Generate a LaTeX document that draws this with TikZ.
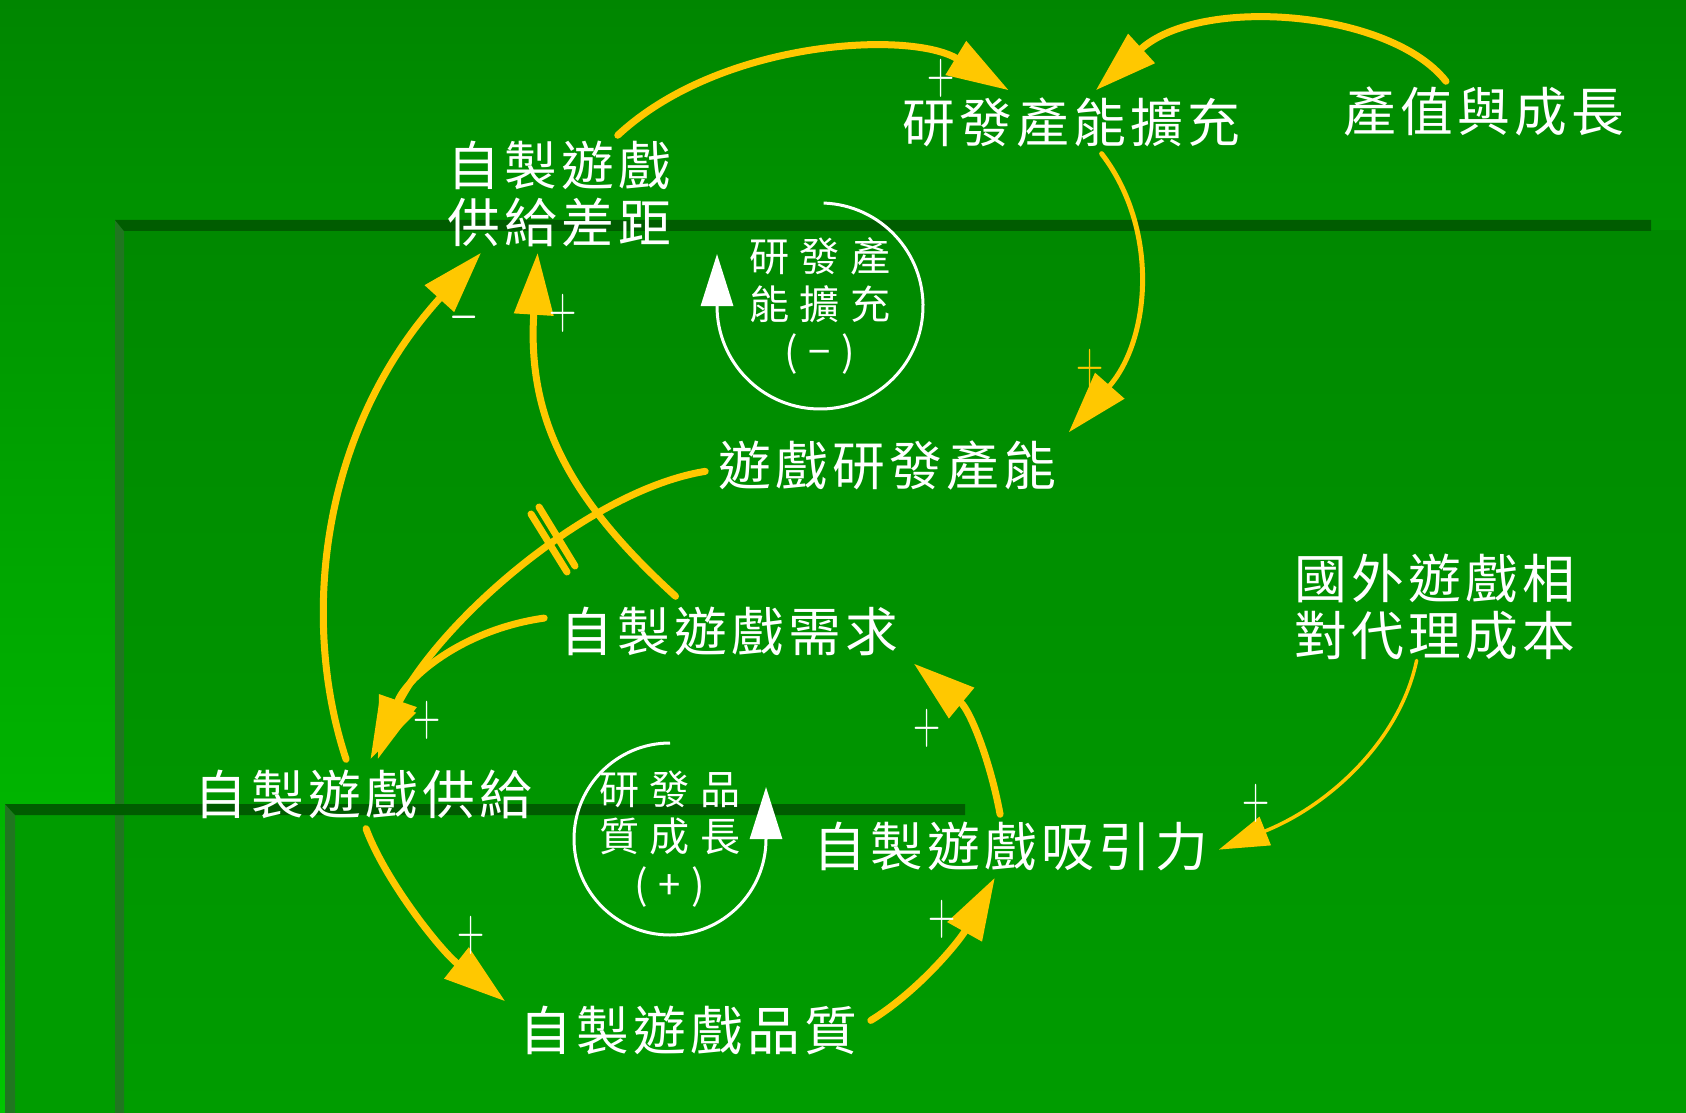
\documentclass[tikz,border=0pt]{standalone}
\usepackage{fontspec}
\usepackage{graphicx}
\usetikzlibrary{arrows.meta}
\newfontfamily\cjk[LetterSpace=8]{Noto Sans CJK TC}
\newfontfamily\cjkloop[LetterSpace=27]{Noto Sans CJK TC}
\definecolor{bgtop}{RGB}{0,134,0}
\definecolor{bgbot}{RGB}{0,198,0}
\definecolor{paneltop}{RGB}{0,137,0}
\definecolor{panelbot}{RGB}{0,156,0}
\definecolor{band}{RGB}{0,92,0}
\definecolor{bevel}{RGB}{32,118,32}
\definecolor{gold}{RGB}{255,200,0}
\newcommand{\polplus}{\scalebox{0.62}[1]{$+$}}
\newcommand{\polminus}{\scalebox{0.62}[1]{$-$}}
\tikzset{
  var/.style={text=white, font=\cjk\fontsize{15}{16}\selectfont, align=center, inner sep=0pt},
  loopname/.style={text=white, font=\cjkloop\fontsize{11.4}{13.4}\selectfont, align=center, inner sep=0pt},
  pol/.style={text=white, font=\fontsize{16.5}{17}\selectfont, inner sep=0pt},
  link/.style={draw=gold, line width=0.07cm, line cap=round, -{Triangle[length=0.62cm,width=0.38cm]}},
  thinlink/.style={draw=gold, line width=0.035cm, line cap=round, -{Triangle[length=0.5cm,width=0.3cm]}},
  delay/.style={draw=gold, line width=0.07cm, line cap=round},
  loopline/.style={draw=white, line width=0.03cm, -{Triangle[length=0.52cm,width=0.32cm]}}
}

\begin{document}
\begin{tikzpicture}[x=0.01cm, y=-0.01cm]
\useasboundingbox (0,0) rectangle (1686,1113);
\fill[top color=bgtop, bottom color=bgbot] (0,0) rectangle (1686,1113);
\fill[top color=paneltop, bottom color=panelbot] (124,231) rectangle (1686,1113);
\fill[bevel] (115,220) -- (124,231) -- (124,1113) -- (115,1113) -- cycle;
\fill[band] (115,220) -- (1651,220) -- (1651,231) -- (124,231) -- cycle;
\fill[panelbot] (15,815) rectangle (115,1113);
\fill[bevel] (5,804) -- (15,815) -- (15,1113) -- (5,1113) -- cycle;
\fill[band] (5,804) -- (965,804) -- (965,815) -- (15,815) -- cycle;

\node[var, minimum width=3.46cm, minimum height=0.62cm] (exp) at (1071,122) {研發產能擴充};
\node[var, minimum width=2.8cm, minimum height=0.58cm] (grow) at (1484,111) {產值與成長};
\node[var, minimum width=2.2cm, minimum height=1.16cm] (gap) at (559,194) {自製遊戲\\供給差距};
\node[var, minimum width=3.62cm, minimum height=0.64cm] (cap) at (887,465) {遊戲研發產能};
\node[var, minimum width=3.68cm, minimum height=0.68cm] (dem) at (729,631) {自製遊戲需求};
\node[var, minimum width=3.32cm, minimum height=0.68cm] (sup) at (363,794) {自製遊戲供給};
\node[var, minimum width=4.14cm, minimum height=0.62cm] (atr) at (1011,846) {自製遊戲吸引力};
\node[var, minimum width=3.64cm, minimum height=0.56cm] (qual) at (688,1030) {自製遊戲品質};
\node[var, minimum width=2.8cm, minimum height=1.05cm] (cost) at (1435,607) {國外遊戲相\\對代理成本};
\node[loopname] (lp1) at (820,306) {研發產\\能擴充\\(−)};
\node[loopname] (lp2) at (670,839) {研發品\\質成長\\(+)};

\draw[loopline] (lp1.center) ++(-88:103) arc[start angle=-88, end angle=180, radius=103] -- ++(0,-52);
\draw[loopline] (lp2.center) ++(-90:96) arc[start angle=-90, end angle=-360, radius=96] -- ++(0,-52);

\draw[link] (gap.45) .. controls (720,40) and (910,30) .. (exp.153.1);
\draw[link] (grow.142.7) .. controls (1390,10) and (1200,-5) .. (exp.52.3);
\draw[link, line width=0.05cm] (exp.-46.9) .. controls (1160,230) and (1150,340) .. (cap.north east);
\draw[link] (cap.-178) .. controls (590,490) and (440,620) .. (sup.78.4);
\draw[link] (dem.176) .. controls (460,630) and (405,680) .. (sup.67.6);
\draw[link] (dem.147.3) .. controls (570,500) and (527,420) .. (gap.-110.8);
\draw[link] (sup.116.6) .. controls (300,620) and (320,430) .. (gap.-143);
\draw[link] (sup.-85) .. controls (385,880) and (440,950) .. (qual.north west);
\draw[link] (qual.3.9) .. controls (920,990) and (960,940) .. (atr.-117.3);
\draw[link] (atr.109.5) .. controls (990,760) and (970,710) .. (dem.-10.9);
\draw[thinlink] (cost.-109.9) .. controls (1400,740) and (1330,805) .. (atr.-1.1);
\draw[delay] (531,514) -- (567,572) (539,507) -- (575,566);

\node[pol] (s1) at (941,78) {\polplus};
\node[pol, text=gold] (s2) at (1090,368) {\polplus};
\node[pol] (s3) at (464,317) {\polminus};
\node[pol] (s4) at (563,313) {\polplus};
\node[pol] (s5) at (427,720) {\polplus};
\node[pol] (s6) at (927,728) {\polplus};
\node[pol] (s7) at (471,935) {\polplus};
\node[pol] (s8) at (942,919) {\polplus};
\node[pol] (s9) at (1256,803) {\polplus};
\end{tikzpicture}
\end{document}
